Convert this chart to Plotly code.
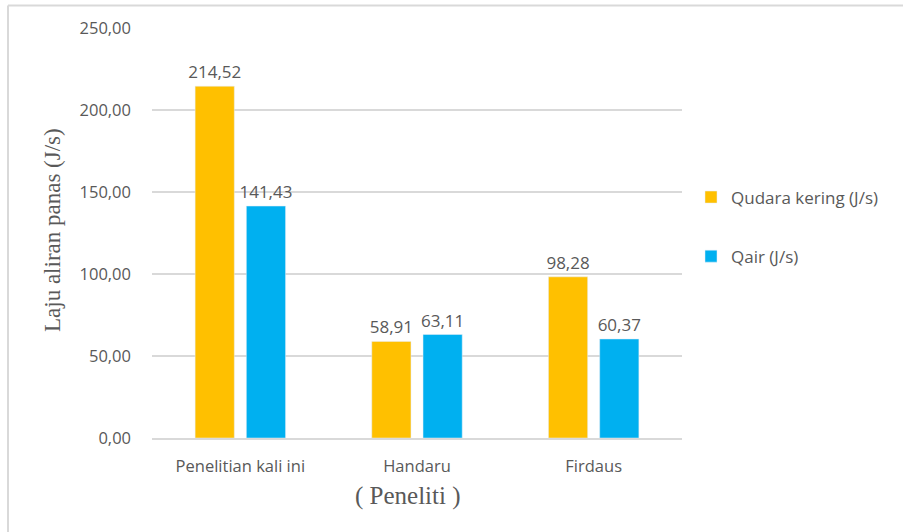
import plotly.graph_objects as go

categories = ["Penelitian kali ini", "Handaru", "Firdaus"]
qudara = [214.52, 58.91, 98.28]
qair = [141.43, 63.11, 60.37]
series_names = ["Qudara kering (J/s)", "Qair (J/s)"]
y_ticks = [0, 50, 100, 150, 200, 250]
x_title = "( Peneliti )"
y_title = "Laju aliran panas (J/s)"

def fmt(v):
    return f"{v:.2f}".replace(".", ",")

L, R, T, B = 152, 221, 28, 94
W, H = 903, 532
pw, ph = W - L - R, H - T - B

def px(x):
    return (x - L) / pw

def py(y):
    return (H - B - y) / ph

SANS = "Open Sans, Lato, sans-serif"
SERIF = "Liberation Serif, Times New Roman, serif"
GREY = "#595959"
label_font = dict(family=SANS, size=17, color=GREY)

fig = go.Figure()
fig.add_trace(go.Bar(x=categories, y=qudara, name=series_names[0], marker_color="#FFC000",
                     text=[fmt(v) for v in qudara], textposition="outside", constraintext="none",
                     textfont=label_font, cliponaxis=False, legendgroup="a"))
fig.add_trace(go.Bar(x=categories, y=qair, name=series_names[1], marker_color="#00B0F0",
                     text=[fmt(v) for v in qair], textposition="outside", constraintext="none",
                     textfont=label_font, cliponaxis=False, legendgroup="b"))

fig.update_layout(
    width=W, height=H,
    margin=dict(l=L, r=R, t=T, b=B, autoexpand=False),
    paper_bgcolor="white", plot_bgcolor="white",
    barmode="group", bargap=0.42, bargroupgap=0.235,
    separators=",.",
    showlegend=True,
    legend=dict(x=px(691), y=py(227), xanchor="left", yanchor="middle",
                font=dict(family=SANS, size=17, color=GREY),
                tracegroupgap=34, bgcolor="rgba(0,0,0,0)"),
    xaxis=dict(showgrid=False, showline=True, linecolor="#d9d9d9", linewidth=1.5,
               tickfont=dict(family=SANS, size=16.5, color=GREY),
               ticklabelstandoff=12),
    yaxis=dict(range=[0, 250], tickvals=y_ticks, tickformat=".2f",
               showgrid=True, gridcolor="#d9d9d9", gridwidth=1.5, zeroline=False,
               tickfont=dict(family=SANS, size=16.5, color=GREY),
               ticklabelstandoff=20),
    annotations=[
        dict(text=x_title, xref="paper", yref="paper", x=px(408), y=py(496),
             xanchor="center", yanchor="middle", showarrow=False,
             font=dict(family=SERIF, size=25, color=GREY)),
        dict(text=y_title, xref="paper", yref="paper", x=px(52), y=py(230),
             xanchor="center", yanchor="middle", showarrow=False, textangle=-90,
             font=dict(family=SERIF, size=23, color=GREY)),
    ],
    shapes=[
        dict(type="line", xref="paper", yref="paper", x0=px(8), x1=px(903), y0=py(5.5), y1=py(5.5),
             line=dict(color="#d9d9d9", width=2)),
        dict(type="line", xref="paper", yref="paper", x0=px(8), x1=px(8), y0=py(5.5), y1=py(532),
             line=dict(color="#d9d9d9", width=2)),
    ],
)

fig.write_html("out.html")
